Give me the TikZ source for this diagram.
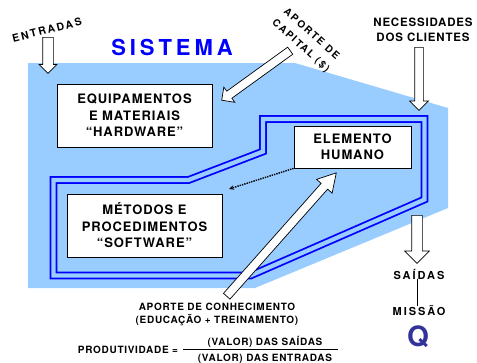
\documentclass[tikz,border=0pt]{standalone}
\usepackage{fontspec}
\setmainfont{texgyreheros}[Extension=.otf, UprightFont=*-regular, BoldFont=*-bold]
\newfontfamily\largo{texgyreheros}[Extension=.otf, UprightFont=*-regular, BoldFont=*-bold, LetterSpace=7]
\newfontfamily\maislargo{texgyreheros}[Extension=.otf, UprightFont=*-regular, BoldFont=*-bold, LetterSpace=18]
\usetikzlibrary{shapes.arrows,arrows.meta}
\definecolor{fundo}{HTML}{99CCFF}
\definecolor{azul}{HTML}{0000FF}
\definecolor{roxo}{HTML}{333399}
\tikzset{
  caixa/.style={draw=black, fill=white, line width=0.8pt, inner sep=0pt,
    align=center, font=\largo\bfseries\fontsize{13}{16.5}\selectfont},
  seta/.style={single arrow, draw=black, fill=white, line width=0.7pt,
    inner sep=0pt, anchor=tail, single arrow head extend=#1},
  rotulo/.style={font=\largo\bfseries\fontsize{10}{13}\selectfont, align=center, inner sep=0pt},
  largo/.style={font=\maislargo\bfseries\fontsize{11}{14}\selectfont, align=center, inner sep=0pt}
}

\begin{document}
\begin{tikzpicture}[x=1pt,y=-1pt]
\useasboundingbox (0,0) rectangle (477,362);
% sistema
\fill[fundo] (28,63) -- (295,63) -- (448,108) -- (448,208) -- (255,288) -- (28,288) -- cycle;
\draw[azul, line width=1.8pt, double=fundo, double distance=4.2pt, line join=miter]
  (53.5,275.5) -- (53.5,180) -- (188.5,180) -- (263,151.5) -- (263,119)
  -- (424.5,119) -- (424.5,199.5) -- (250.5,275.5) -- cycle;
\node[font=\maislargo\bfseries\fontsize{22}{24}\selectfont, text=azul, inner sep=0pt] (sistema) at (172,47) {SISTEMA};

% caixas
\node[caixa, minimum width=155pt, minimum height=63pt] (hardware) at (134.5,115.5)
  {EQUIPAMENTOS\\E MATERIAIS\\“HARDWARE”};
\node[caixa, minimum width=117pt, minimum height=42pt] (humano) at (352.5,147)
  {ELEMENTO\\HUMANO};
\node[caixa, minimum width=155pt, minimum height=63pt] (software) at (144.5,225.5)
  {MÉTODOS E\\PROCEDIMENTOS\\“SOFTWARE”};

% entradas
\node[largo, font=\maislargo\bfseries\fontsize{10.5}{13}\selectfont, rotate=14] (entradas) at (47,30) {ENTRADAS};
\node[seta=3.5pt, minimum height=36pt, rotate=-90] (s_entradas) at (48,37) {\rule{0pt}{10pt}};

% capital
\node[largo, font=\maislargo\bfseries\fontsize{10}{16}\selectfont, rotate=-42] (capital) at (306,40) {APORTE DE\\CAPITAL (\$)};
\node[seta=5pt, minimum height=84.5pt, rotate=215.85] (s_capital) at (290.5,50.5) {\rule{0pt}{8pt}};

% clientes
\node[rotulo, font=\largo\bfseries\fontsize{11.5}{14.5}\selectfont] (clientes) at (423,30) {NECESSIDADES\\DOS CLIENTES};
\node[seta=5pt, minimum height=63pt, rotate=-90] (s_clientes) at (419,47) {\rule{0pt}{8pt}};

% saidas
\node[seta=7pt, minimum height=48pt, rotate=-90] (s_saidas) at (417,215) {\rule{0pt}{10pt}};
\node[largo] (saidas) at (419,274) {SAÍDAS};
\node[largo] (missao) at (419,311) {MISSÃO};
\draw[line width=0.8pt, double, double distance=3pt] (saidas) -- (missao);
\node[font=\bfseries\fontsize{28}{30}\selectfont, text=roxo, inner sep=0pt] (q) at (418,337) {Q};

% conhecimento
\node[seta=6pt, minimum height=165pt, rotate=48.4, single arrow tip angle=60] (s_conhec) at (226.5,296.5) {\rule{0pt}{8pt}};
\node[rotulo] (conhec) at (217,314) {APORTE DE CONHECIMENTO\\(EDUCAÇÃO + TREINAMENTO)};

% humano -> metodos
\coordinate (ponta) at (229,189);
\draw[densely dotted, line width=1.4pt, -{Stealth[length=5pt,width=4.5pt]}] (humano.south west) -- (ponta);

% produtividade
\node[rotulo] (prod) at (128,350) {PRODUTIVIDADE =};
\node[rotulo] (num) at (265,342) {(VALOR) DAS SAÍDAS};
\node[rotulo] (den) at (265,358.5) {(VALOR) DAS ENTRADAS};
\draw[line width=0.6pt] (183,349.5) -- (338,349.5);
\end{tikzpicture}
\end{document}
